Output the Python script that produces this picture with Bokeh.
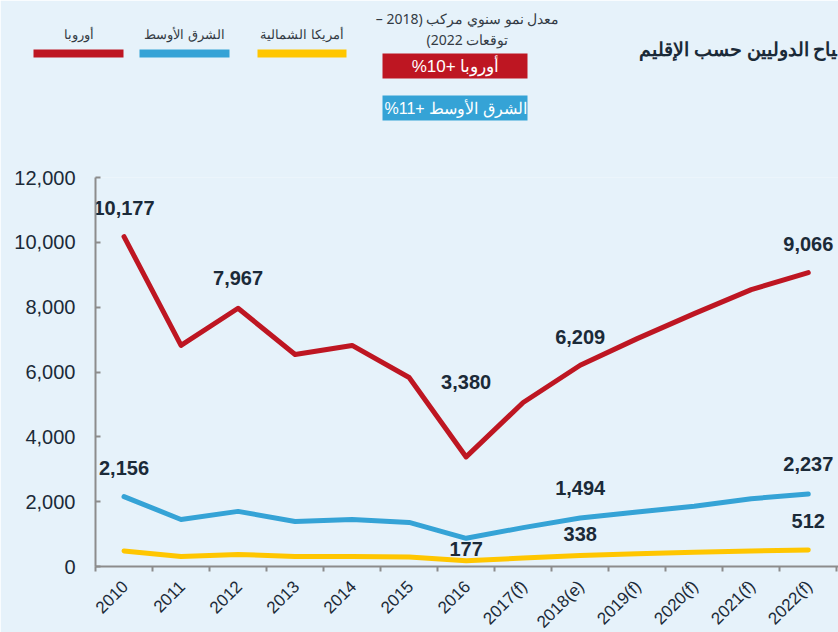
import math
from bokeh.plotting import figure
from bokeh.models import Range1d, FixedTicker, NumeralTickFormatter, ColumnDataSource
from bokeh.core.properties import value
from bokeh.embed import file_html
from bokeh.resources import INLINE

# ---------------- data ----------------
years = ["2010", "2011", "2012", "2013", "2014", "2015", "2016",
         "2017(f)", "2018(e)", "2019(f)", "2020(f)", "2021(f)", "2022(f)"]
europe = [10177, 6820, 7967, 6540, 6820, 5830, 3380, 5060, 6209, 7030, 7800, 8540, 9066]
middle_east = [2156, 1450, 1700, 1390, 1450, 1360, 870, 1200, 1494, 1680, 1860, 2090, 2237]
north_america = [480, 310, 370, 310, 310, 290, 177, 260, 338, 390, 440, 480, 512]

series_names = ["أوروبا", "الشرق الأوسط", "أمريكا الشمالية"]
# visible part of the title (the original is cropped at the right edge)
title_text = "\u200dياح الدوليين حسب الإقليم"
cagr_caption = ["\u202bمعدل نمو سنوي مركب (2018 –\u202c", "\u202bتوقعات 2022)\u202c"]
cagr_labels = ["\u2067أوروبا +10%\u2069", "\u2067الشرق الأوسط +11%\u2069"]

# which points carry a value label
europe_label_idx = [0, 2, 6, 8, 12]
me_label_idx = [0, 8, 12]
na_label_idx = [6, 8, 12]

# ---------------- style ----------------
BG = "#E6F2FA"
RED = "#BE1622"
BLUE = "#35A3D6"
YELLOW = "#FFC600"
DARK = "#1B2A38"
GREY_TXT = "#333B44"
AXIS_GREY = "#8C8C8C"

europe_label_dy = [-29, -30, -75, -28, -29]
me_label_dy = [-29, -30, -30]
na_label_dy = [-12, -22, -29]

W, H = 838, 632
FL, FT, FB = 95, 177, 566   # frame left / top / bottom in page pixels

n = len(years)
xs = list(range(n))

p = figure(width=W, height=H, output_backend="svg", toolbar_location=None,
           x_range=Range1d(-0.5, n - 0.5 + 0.03), y_range=Range1d(0, 12000),
           min_border_left=FL, min_border_right=0, min_border_top=FT,
           min_border_bottom=H - FB)
p.background_fill_color = BG
p.border_fill_color = BG
p.outline_line_color = None
p.xgrid.visible = False
p.ygrid.visible = False

# pixel-space ranges for the header decorations
p.extra_x_ranges = {"px": Range1d(FL, W)}
p.extra_y_ranges = {"px": Range1d(FB, FT)}
PX = dict(x_range_name="px", y_range_name="px", level="overlay")

# ---- header: legend ----
leg_left = [33, 139, 257]
leg_right = [123, 229, 346]
leg_cols = [RED, BLUE, YELLOW]
p.quad(left=leg_left, right=leg_right, top=[49] * 3, bottom=[57] * 3,
       fill_color=leg_cols, line_color=None, **PX)
p.text(x=[(a + b) / 2 for a, b in zip(leg_left, leg_right)], y=[33] * 3,
       text=series_names, text_align="center", text_baseline="middle",
       text_font=value("Noto Sans"), text_font_size="13px", text_color=GREY_TXT, **PX)

# ---- header: CAGR caption and boxes ----
p.text(x=[467, 467], y=[18, 39], text=cagr_caption, text_align="center",
       text_baseline="middle", text_font=value("Noto Sans"),
       text_font_size="14px", text_color=GREY_TXT, **PX)
p.quad(left=[382, 382], right=[527, 527], top=[53, 95], bottom=[78, 120],
       fill_color=[RED, BLUE], line_color=None, **PX)
p.text(x=[455, 455], y=[66, 108], text=cagr_labels, text_align="center",
       text_baseline="middle", text_font=value("Liberation Sans"),
       text_font_size=["17px", "16px"], text_color="white", **PX)

# ---- header: title ----
p.text(x=[837], y=[48], text=[title_text], text_align="right",
       text_baseline="middle", text_font=value("Noto Sans"),
       text_font_size="19px", text_font_style="bold", text_color=DARK, **PX)

# ---- lines ----
src = ColumnDataSource(dict(x=xs, eu=europe, me=middle_east, na=north_america))
p.line("x", "na", source=src, line_color=YELLOW, line_width=5, line_join="round", line_cap="round")
p.line("x", "me", source=src, line_color=BLUE, line_width=5, line_join="round", line_cap="round")
p.line("x", "eu", source=src, line_color=RED, line_width=5, line_join="round", line_cap="round")

def add_labels(vals, idx, dys):
    p.text(x=[xs[i] for i in idx], y=[vals[i] for i in idx],
           text=["{:,}".format(vals[i]) for i in idx],
           y_offset=dys, text_align="center", text_baseline="middle",
           text_font=value("Liberation Sans"), text_font_size="20px",
           text_font_style="bold", text_color=DARK)

add_labels(europe, europe_label_idx, europe_label_dy)
add_labels(middle_east, me_label_idx, me_label_dy)
add_labels(north_america, na_label_idx, na_label_dy)

# ---- y axis ----
ya = p.yaxis[0]
ya.ticker = FixedTicker(ticks=list(range(0, 12001, 2000)))
ya.formatter = NumeralTickFormatter(format="0,0")
ya.axis_line_color = AXIS_GREY
ya.axis_line_width = 2
ya.major_tick_line_color = AXIS_GREY
ya.major_tick_line_width = 2
ya.major_tick_in = 5
ya.major_tick_out = 0
ya.minor_tick_line_color = None
ya.major_label_standoff = 20
ya.major_label_text_font = "Liberation Sans"
ya.major_label_text_font_size = "20px"
ya.major_label_text_color = DARK

# ---- x axis: boundary ticks, category labels rotated 45 degrees ----
xa = p.xaxis[0]
xa.ticker = FixedTicker(ticks=[], minor_ticks=[i - 0.5 for i in range(n + 1)])
xa.axis_line_color = AXIS_GREY
xa.axis_line_width = 2
xa.major_tick_line_color = None
xa.minor_tick_line_color = AXIS_GREY
xa.minor_tick_line_width = 2
xa.minor_tick_in = 0
xa.minor_tick_out = 5

p.text(x=xs, y=[0] * n, text=years, angle=math.pi / 4, text_align="right",
       text_baseline="middle", x_offset=1, y_offset=17,
       text_font=value("Liberation Sans"), text_font_size="17px",
       text_color=DARK, level="overlay")

open("out.html", "w").write(file_html(p, INLINE))
